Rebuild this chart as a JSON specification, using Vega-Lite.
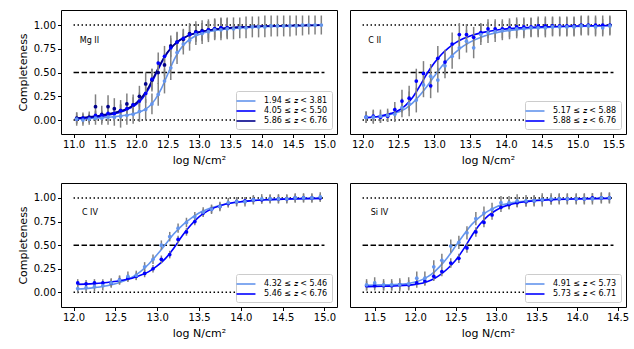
{
"$schema":"https://vega.github.io/schema/vega-lite/v6.json",
"padding":{"left":16,"top":9,"right":0,"bottom":0},
"config":{
 "font":"DejaVu Sans",
 "view":{"stroke":"black","strokeWidth":1},
 "axis":{"domain":false,"grid":false,"tickColor":"black","tickSize":3.5,"tickWidth":1,"labelColor":"black","labelFontSize":10,"labelFont":"DejaVu Sans","titleFont":"DejaVu Sans","titleFontSize":11,"titleFontWeight":"normal","titleColor":"black","labelPadding":2,"titlePadding":5,"labelOverlap":false,"labelFlush":false,"tickCount":20},
 "legend":{"orient":"bottom-right","offset":5,"fillColor":"white","strokeColor":"#cccccc","cornerRadius":2,"padding":4,"labelFontSize":8,"labelFont":"DejaVu Sans","labelColor":"black","symbolType":"M-2,0H2","symbolSize":90,"symbolStrokeWidth":1.6,"rowPadding":0,"labelOffset":12}
},
"datasets":{
"hl":[
{"p":"mg","y":0,"x":11.0,"x2":15.0},{"p":"mg","y":0.5,"x":11.0,"x2":15.0},{"p":"mg","y":1,"x":11.0,"x2":15.0},
{"p":"cii","y":0,"x":12.0,"x2":15.5},{"p":"cii","y":0.5,"x":12.0,"x2":15.5},{"p":"cii","y":1,"x":12.0,"x2":15.5},
{"p":"civ","y":0,"x":12.0,"x2":15.0},{"p":"civ","y":0.5,"x":12.0,"x2":15.0},{"p":"civ","y":1,"x":12.0,"x2":15.0},
{"p":"siiv","y":0,"x":11.35,"x2":14.45},{"p":"siiv","y":0.5,"x":11.35,"x2":14.45},{"p":"siiv","y":1,"x":11.35,"x2":14.45}
],
"fit":[
{"p":"mg","s":"a","x":11.05,"y":0.01},{"p":"mg","s":"a","x":11.2,"y":0.015},{"p":"mg","s":"a","x":11.4,"y":0.022},{"p":"mg","s":"a","x":11.6,"y":0.032},{"p":"mg","s":"a","x":11.8,"y":0.047},{"p":"mg","s":"a","x":11.9,"y":0.058},{"p":"mg","s":"a","x":12.0,"y":0.073},{"p":"mg","s":"a","x":12.1,"y":0.097},{"p":"mg","s":"a","x":12.2,"y":0.14},{"p":"mg","s":"a","x":12.3,"y":0.215},{"p":"mg","s":"a","x":12.4,"y":0.33},{"p":"mg","s":"a","x":12.5,"y":0.48},{"p":"mg","s":"a","x":12.6,"y":0.63},{"p":"mg","s":"a","x":12.7,"y":0.745},{"p":"mg","s":"a","x":12.8,"y":0.82},{"p":"mg","s":"a","x":12.9,"y":0.868},{"p":"mg","s":"a","x":13.0,"y":0.9},{"p":"mg","s":"a","x":13.2,"y":0.936},{"p":"mg","s":"a","x":13.4,"y":0.955},{"p":"mg","s":"a","x":13.6,"y":0.967},{"p":"mg","s":"a","x":13.8,"y":0.975},{"p":"mg","s":"a","x":14.0,"y":0.981},{"p":"mg","s":"a","x":14.3,"y":0.988},{"p":"mg","s":"a","x":14.6,"y":0.993},{"p":"mg","s":"a","x":14.95,"y":0.997},
{"p":"mg","s":"b","x":11.05,"y":0.015},{"p":"mg","s":"b","x":11.2,"y":0.022},{"p":"mg","s":"b","x":11.4,"y":0.035},{"p":"mg","s":"b","x":11.6,"y":0.058},{"p":"mg","s":"b","x":11.8,"y":0.095},{"p":"mg","s":"b","x":11.9,"y":0.125},{"p":"mg","s":"b","x":12.0,"y":0.165},{"p":"mg","s":"b","x":12.1,"y":0.23},{"p":"mg","s":"b","x":12.2,"y":0.33},{"p":"mg","s":"b","x":12.3,"y":0.465},{"p":"mg","s":"b","x":12.4,"y":0.6},{"p":"mg","s":"b","x":12.5,"y":0.71},{"p":"mg","s":"b","x":12.6,"y":0.79},{"p":"mg","s":"b","x":12.7,"y":0.845},{"p":"mg","s":"b","x":12.8,"y":0.88},{"p":"mg","s":"b","x":12.9,"y":0.905},{"p":"mg","s":"b","x":13.0,"y":0.925},{"p":"mg","s":"b","x":13.2,"y":0.95},{"p":"mg","s":"b","x":13.4,"y":0.965},{"p":"mg","s":"b","x":13.6,"y":0.975},{"p":"mg","s":"b","x":13.8,"y":0.982},{"p":"mg","s":"b","x":14.0,"y":0.987},{"p":"mg","s":"b","x":14.3,"y":0.992},{"p":"mg","s":"b","x":14.6,"y":0.995},{"p":"mg","s":"b","x":14.95,"y":0.998},
{"p":"mg","s":"c","x":11.05,"y":0.02},{"p":"mg","s":"c","x":11.2,"y":0.03},{"p":"mg","s":"c","x":11.4,"y":0.045},{"p":"mg","s":"c","x":11.6,"y":0.07},{"p":"mg","s":"c","x":11.8,"y":0.105},{"p":"mg","s":"c","x":11.9,"y":0.135},{"p":"mg","s":"c","x":12.0,"y":0.18},{"p":"mg","s":"c","x":12.1,"y":0.25},{"p":"mg","s":"c","x":12.2,"y":0.35},{"p":"mg","s":"c","x":12.3,"y":0.48},{"p":"mg","s":"c","x":12.4,"y":0.61},{"p":"mg","s":"c","x":12.5,"y":0.715},{"p":"mg","s":"c","x":12.6,"y":0.79},{"p":"mg","s":"c","x":12.7,"y":0.842},{"p":"mg","s":"c","x":12.8,"y":0.878},{"p":"mg","s":"c","x":12.9,"y":0.905},{"p":"mg","s":"c","x":13.0,"y":0.925},{"p":"mg","s":"c","x":13.2,"y":0.95},{"p":"mg","s":"c","x":13.4,"y":0.965},{"p":"mg","s":"c","x":13.6,"y":0.975},{"p":"mg","s":"c","x":13.8,"y":0.982},{"p":"mg","s":"c","x":14.0,"y":0.987},{"p":"mg","s":"c","x":14.3,"y":0.992},{"p":"mg","s":"c","x":14.6,"y":0.995},{"p":"mg","s":"c","x":14.95,"y":0.998},
{"p":"cii","s":"a","x":12.05,"y":0.025},{"p":"cii","s":"a","x":12.2,"y":0.035},{"p":"cii","s":"a","x":12.4,"y":0.06},{"p":"cii","s":"a","x":12.5,"y":0.085},{"p":"cii","s":"a","x":12.6,"y":0.12},{"p":"cii","s":"a","x":12.7,"y":0.18},{"p":"cii","s":"a","x":12.8,"y":0.26},{"p":"cii","s":"a","x":12.9,"y":0.355},{"p":"cii","s":"a","x":13.0,"y":0.46},{"p":"cii","s":"a","x":13.1,"y":0.56},{"p":"cii","s":"a","x":13.2,"y":0.645},{"p":"cii","s":"a","x":13.3,"y":0.715},{"p":"cii","s":"a","x":13.4,"y":0.775},{"p":"cii","s":"a","x":13.5,"y":0.82},{"p":"cii","s":"a","x":13.7,"y":0.885},{"p":"cii","s":"a","x":13.9,"y":0.925},{"p":"cii","s":"a","x":14.2,"y":0.955},{"p":"cii","s":"a","x":14.5,"y":0.972},{"p":"cii","s":"a","x":15.0,"y":0.986},{"p":"cii","s":"a","x":15.45,"y":0.993},
{"p":"cii","s":"b","x":12.05,"y":0.025},{"p":"cii","s":"b","x":12.2,"y":0.035},{"p":"cii","s":"b","x":12.4,"y":0.07},{"p":"cii","s":"b","x":12.5,"y":0.1},{"p":"cii","s":"b","x":12.6,"y":0.155},{"p":"cii","s":"b","x":12.7,"y":0.24},{"p":"cii","s":"b","x":12.8,"y":0.36},{"p":"cii","s":"b","x":12.9,"y":0.49},{"p":"cii","s":"b","x":13.0,"y":0.6},{"p":"cii","s":"b","x":13.1,"y":0.69},{"p":"cii","s":"b","x":13.2,"y":0.76},{"p":"cii","s":"b","x":13.3,"y":0.815},{"p":"cii","s":"b","x":13.4,"y":0.855},{"p":"cii","s":"b","x":13.5,"y":0.885},{"p":"cii","s":"b","x":13.7,"y":0.925},{"p":"cii","s":"b","x":13.9,"y":0.95},{"p":"cii","s":"b","x":14.2,"y":0.97},{"p":"cii","s":"b","x":14.5,"y":0.98},{"p":"cii","s":"b","x":15.0,"y":0.99},{"p":"cii","s":"b","x":15.45,"y":0.995},
{"p":"civ","s":"a","x":12.05,"y":0.035},{"p":"civ","s":"a","x":12.2,"y":0.045},{"p":"civ","s":"a","x":12.4,"y":0.07},{"p":"civ","s":"a","x":12.6,"y":0.12},{"p":"civ","s":"a","x":12.7,"y":0.16},{"p":"civ","s":"a","x":12.8,"y":0.22},{"p":"civ","s":"a","x":12.9,"y":0.3},{"p":"civ","s":"a","x":13.0,"y":0.4},{"p":"civ","s":"a","x":13.1,"y":0.51},{"p":"civ","s":"a","x":13.2,"y":0.62},{"p":"civ","s":"a","x":13.3,"y":0.71},{"p":"civ","s":"a","x":13.4,"y":0.78},{"p":"civ","s":"a","x":13.5,"y":0.84},{"p":"civ","s":"a","x":13.6,"y":0.88},{"p":"civ","s":"a","x":13.8,"y":0.93},{"p":"civ","s":"a","x":14.0,"y":0.96},{"p":"civ","s":"a","x":14.3,"y":0.98},{"p":"civ","s":"a","x":14.6,"y":0.99},{"p":"civ","s":"a","x":14.95,"y":0.995},
{"p":"civ","s":"b","x":12.05,"y":0.085},{"p":"civ","s":"b","x":12.2,"y":0.09},{"p":"civ","s":"b","x":12.4,"y":0.105},{"p":"civ","s":"b","x":12.6,"y":0.13},{"p":"civ","s":"b","x":12.7,"y":0.15},{"p":"civ","s":"b","x":12.8,"y":0.18},{"p":"civ","s":"b","x":12.9,"y":0.22},{"p":"civ","s":"b","x":13.0,"y":0.28},{"p":"civ","s":"b","x":13.1,"y":0.36},{"p":"civ","s":"b","x":13.2,"y":0.47},{"p":"civ","s":"b","x":13.3,"y":0.6},{"p":"civ","s":"b","x":13.4,"y":0.71},{"p":"civ","s":"b","x":13.5,"y":0.8},{"p":"civ","s":"b","x":13.6,"y":0.86},{"p":"civ","s":"b","x":13.8,"y":0.93},{"p":"civ","s":"b","x":14.0,"y":0.96},{"p":"civ","s":"b","x":14.3,"y":0.98},{"p":"civ","s":"b","x":14.6,"y":0.99},{"p":"civ","s":"b","x":14.95,"y":0.995},
{"p":"siiv","s":"a","x":11.4,"y":0.075},{"p":"siiv","s":"a","x":11.6,"y":0.08},{"p":"siiv","s":"a","x":11.8,"y":0.085},{"p":"siiv","s":"a","x":12.0,"y":0.11},{"p":"siiv","s":"a","x":12.1,"y":0.14},{"p":"siiv","s":"a","x":12.2,"y":0.19},{"p":"siiv","s":"a","x":12.3,"y":0.27},{"p":"siiv","s":"a","x":12.4,"y":0.37},{"p":"siiv","s":"a","x":12.5,"y":0.49},{"p":"siiv","s":"a","x":12.6,"y":0.61},{"p":"siiv","s":"a","x":12.7,"y":0.72},{"p":"siiv","s":"a","x":12.8,"y":0.8},{"p":"siiv","s":"a","x":12.9,"y":0.86},{"p":"siiv","s":"a","x":13.0,"y":0.905},{"p":"siiv","s":"a","x":13.2,"y":0.95},{"p":"siiv","s":"a","x":13.4,"y":0.97},{"p":"siiv","s":"a","x":13.7,"y":0.985},{"p":"siiv","s":"a","x":14.0,"y":0.992},{"p":"siiv","s":"a","x":14.4,"y":0.996},
{"p":"siiv","s":"b","x":11.4,"y":0.06},{"p":"siiv","s":"b","x":11.6,"y":0.065},{"p":"siiv","s":"b","x":11.8,"y":0.07},{"p":"siiv","s":"b","x":12.0,"y":0.085},{"p":"siiv","s":"b","x":12.1,"y":0.1},{"p":"siiv","s":"b","x":12.2,"y":0.13},{"p":"siiv","s":"b","x":12.3,"y":0.18},{"p":"siiv","s":"b","x":12.4,"y":0.25},{"p":"siiv","s":"b","x":12.5,"y":0.34},{"p":"siiv","s":"b","x":12.6,"y":0.46},{"p":"siiv","s":"b","x":12.7,"y":0.6},{"p":"siiv","s":"b","x":12.8,"y":0.72},{"p":"siiv","s":"b","x":12.9,"y":0.81},{"p":"siiv","s":"b","x":13.0,"y":0.87},{"p":"siiv","s":"b","x":13.2,"y":0.935},{"p":"siiv","s":"b","x":13.4,"y":0.963},{"p":"siiv","s":"b","x":13.7,"y":0.982},{"p":"siiv","s":"b","x":14.0,"y":0.99},{"p":"siiv","s":"b","x":14.4,"y":0.995}
],
"pts":[
{"p":"mg","s":"c","x":11.05,"y":0.02,"lo":-0.04,"hi":0.08},{"p":"mg","s":"c","x":11.15,"y":0.02,"lo":-0.04,"hi":0.08},{"p":"mg","s":"c","x":11.25,"y":0.03,"lo":-0.03,"hi":0.09},{"p":"mg","s":"c","x":11.35,"y":0.14,"lo":0.01,"hi":0.27},{"p":"mg","s":"c","x":11.45,"y":0.06,"lo":-0.03,"hi":0.15},{"p":"mg","s":"c","x":11.55,"y":0.14,"lo":0.02,"hi":0.26},{"p":"mg","s":"c","x":11.65,"y":0.12,"lo":0.01,"hi":0.23},{"p":"mg","s":"c","x":11.75,"y":0.1,"lo":-0.01,"hi":0.21},{"p":"mg","s":"c","x":11.85,"y":0.17,"lo":0.06,"hi":0.28},{"p":"mg","s":"c","x":11.95,"y":0.16,"lo":0.05,"hi":0.27},{"p":"mg","s":"c","x":12.05,"y":0.25,"lo":0.14,"hi":0.36},{"p":"mg","s":"c","x":12.15,"y":0.38,"lo":0.26,"hi":0.5},{"p":"mg","s":"c","x":12.25,"y":0.42,"lo":0.3,"hi":0.54},{"p":"mg","s":"c","x":12.35,"y":0.5,"lo":0.38,"hi":0.62},{"p":"mg","s":"c","x":12.45,"y":0.58,"lo":0.46,"hi":0.7},{"p":"mg","s":"c","x":12.55,"y":0.78,"lo":0.67,"hi":0.89},{"p":"mg","s":"c","x":12.65,"y":0.82,"lo":0.71,"hi":0.93},{"p":"mg","s":"c","x":12.75,"y":0.85,"lo":0.74,"hi":0.96},{"p":"mg","s":"c","x":12.85,"y":0.91,"lo":0.8,"hi":1.02},{"p":"mg","s":"c","x":12.95,"y":0.93,"lo":0.82,"hi":1.04},{"p":"mg","s":"c","x":13.05,"y":0.94,"lo":0.83,"hi":1.05},{"p":"mg","s":"c","x":13.15,"y":0.95,"lo":0.84,"hi":1.06},{"p":"mg","s":"c","x":13.25,"y":0.96,"lo":0.85,"hi":1.07},{"p":"mg","s":"c","x":13.35,"y":0.97,"lo":0.86,"hi":1.08},{"p":"mg","s":"c","x":13.45,"y":0.97,"lo":0.86,"hi":1.08},
{"p":"mg","s":"b","x":11.05,"y":0.01,"lo":-0.03,"hi":0.05},{"p":"mg","s":"b","x":11.15,"y":0.02,"lo":-0.02,"hi":0.06},{"p":"mg","s":"b","x":11.25,"y":0.02,"lo":-0.02,"hi":0.06},{"p":"mg","s":"b","x":11.35,"y":0.05,"lo":0.0,"hi":0.1},{"p":"mg","s":"b","x":11.45,"y":0.05,"lo":0.0,"hi":0.1},{"p":"mg","s":"b","x":11.55,"y":0.07,"lo":0.01,"hi":0.13},{"p":"mg","s":"b","x":11.65,"y":0.07,"lo":0.01,"hi":0.13},{"p":"mg","s":"b","x":11.75,"y":0.1,"lo":0.03,"hi":0.17},{"p":"mg","s":"b","x":11.85,"y":0.12,"lo":0.05,"hi":0.19},{"p":"mg","s":"b","x":11.95,"y":0.16,"lo":0.08,"hi":0.24},{"p":"mg","s":"b","x":12.05,"y":0.2,"lo":0.11,"hi":0.29},{"p":"mg","s":"b","x":12.15,"y":0.28,"lo":0.18,"hi":0.38},{"p":"mg","s":"b","x":12.25,"y":0.43,"lo":0.32,"hi":0.54},{"p":"mg","s":"b","x":12.35,"y":0.6,"lo":0.49,"hi":0.71},{"p":"mg","s":"b","x":12.45,"y":0.67,"lo":0.56,"hi":0.78},{"p":"mg","s":"b","x":12.55,"y":0.76,"lo":0.66,"hi":0.86},{"p":"mg","s":"b","x":12.65,"y":0.82,"lo":0.72,"hi":0.92},{"p":"mg","s":"b","x":12.75,"y":0.86,"lo":0.77,"hi":0.95},{"p":"mg","s":"b","x":12.85,"y":0.9,"lo":0.81,"hi":0.99},{"p":"mg","s":"b","x":12.95,"y":0.92,"lo":0.83,"hi":1.01},{"p":"mg","s":"b","x":13.05,"y":0.93,"lo":0.84,"hi":1.02},{"p":"mg","s":"b","x":13.15,"y":0.95,"lo":0.86,"hi":1.04},{"p":"mg","s":"b","x":13.25,"y":0.96,"lo":0.87,"hi":1.05},{"p":"mg","s":"b","x":13.35,"y":0.97,"lo":0.88,"hi":1.06},{"p":"mg","s":"b","x":13.45,"y":0.97,"lo":0.88,"hi":1.06},
{"p":"mg","s":"a","x":11.05,"y":0.01,"lo":-0.06,"hi":0.08},{"p":"mg","s":"a","x":11.15,"y":0.0,"lo":-0.06,"hi":0.06},{"p":"mg","s":"a","x":11.25,"y":0.01,"lo":-0.05,"hi":0.07},{"p":"mg","s":"a","x":11.35,"y":0.02,"lo":-0.05,"hi":0.09},{"p":"mg","s":"a","x":11.45,"y":0.02,"lo":-0.05,"hi":0.09},{"p":"mg","s":"a","x":11.55,"y":0.03,"lo":-0.05,"hi":0.11},{"p":"mg","s":"a","x":11.65,"y":0.03,"lo":-0.06,"hi":0.12},{"p":"mg","s":"a","x":11.75,"y":0.04,"lo":-0.08,"hi":0.16},{"p":"mg","s":"a","x":11.85,"y":0.05,"lo":-0.05,"hi":0.15},{"p":"mg","s":"a","x":11.95,"y":0.06,"lo":-0.04,"hi":0.16},{"p":"mg","s":"a","x":12.05,"y":0.09,"lo":-0.02,"hi":0.2},{"p":"mg","s":"a","x":12.15,"y":0.11,"lo":0.0,"hi":0.22},{"p":"mg","s":"a","x":12.25,"y":0.17,"lo":0.06,"hi":0.28},{"p":"mg","s":"a","x":12.35,"y":0.27,"lo":0.15,"hi":0.39},{"p":"mg","s":"a","x":12.45,"y":0.41,"lo":0.28,"hi":0.54},{"p":"mg","s":"a","x":12.55,"y":0.55,"lo":0.42,"hi":0.68},{"p":"mg","s":"a","x":12.65,"y":0.71,"lo":0.59,"hi":0.83},{"p":"mg","s":"a","x":12.75,"y":0.8,"lo":0.69,"hi":0.91},{"p":"mg","s":"a","x":12.85,"y":0.84,"lo":0.73,"hi":0.95},{"p":"mg","s":"a","x":12.95,"y":0.9,"lo":0.79,"hi":1.01},{"p":"mg","s":"a","x":13.05,"y":0.91,"lo":0.8,"hi":1.02},{"p":"mg","s":"a","x":13.15,"y":0.93,"lo":0.82,"hi":1.04},{"p":"mg","s":"a","x":13.25,"y":0.95,"lo":0.84,"hi":1.06},{"p":"mg","s":"a","x":13.35,"y":0.95,"lo":0.84,"hi":1.07},{"p":"mg","s":"a","x":13.45,"y":0.96,"lo":0.85,"hi":1.07},{"p":"mg","s":"a","x":13.55,"y":0.96,"lo":0.85,"hi":1.08},{"p":"mg","s":"a","x":13.65,"y":0.97,"lo":0.86,"hi":1.08},{"p":"mg","s":"a","x":13.75,"y":0.97,"lo":0.86,"hi":1.09},{"p":"mg","s":"a","x":13.85,"y":0.98,"lo":0.87,"hi":1.09},{"p":"mg","s":"a","x":13.95,"y":0.98,"lo":0.87,"hi":1.09},{"p":"mg","s":"a","x":14.05,"y":0.98,"lo":0.87,"hi":1.1},{"p":"mg","s":"a","x":14.15,"y":0.99,"lo":0.88,"hi":1.1},{"p":"mg","s":"a","x":14.25,"y":0.99,"lo":0.88,"hi":1.1},{"p":"mg","s":"a","x":14.35,"y":0.99,"lo":0.88,"hi":1.1},{"p":"mg","s":"a","x":14.45,"y":0.99,"lo":0.88,"hi":1.1},{"p":"mg","s":"a","x":14.55,"y":0.99,"lo":0.89,"hi":1.1},{"p":"mg","s":"a","x":14.65,"y":1.0,"lo":0.89,"hi":1.1},{"p":"mg","s":"a","x":14.75,"y":1.0,"lo":0.9,"hi":1.1},{"p":"mg","s":"a","x":14.85,"y":1.0,"lo":0.9,"hi":1.1},{"p":"mg","s":"a","x":14.95,"y":1.0,"lo":0.9,"hi":1.1},
{"p":"cii","s":"b","x":12.05,"y":0.03,"lo":-0.03,"hi":0.09},{"p":"cii","s":"b","x":12.15,"y":0.04,"lo":-0.03,"hi":0.11},{"p":"cii","s":"b","x":12.25,"y":0.03,"lo":-0.03,"hi":0.09},{"p":"cii","s":"b","x":12.35,"y":0.04,"lo":-0.02,"hi":0.1},{"p":"cii","s":"b","x":12.45,"y":0.11,"lo":0.03,"hi":0.19},{"p":"cii","s":"b","x":12.55,"y":0.2,"lo":0.08,"hi":0.32},{"p":"cii","s":"b","x":12.65,"y":0.23,"lo":0.1,"hi":0.36},{"p":"cii","s":"b","x":12.75,"y":0.41,"lo":0.28,"hi":0.54},{"p":"cii","s":"b","x":12.85,"y":0.49,"lo":0.36,"hi":0.62},{"p":"cii","s":"b","x":12.95,"y":0.36,"lo":0.23,"hi":0.49},{"p":"cii","s":"b","x":13.05,"y":0.65,"lo":0.52,"hi":0.78},{"p":"cii","s":"b","x":13.15,"y":0.61,"lo":0.48,"hi":0.74},{"p":"cii","s":"b","x":13.25,"y":0.8,"lo":0.68,"hi":0.92},{"p":"cii","s":"b","x":13.35,"y":0.9,"lo":0.78,"hi":1.02},{"p":"cii","s":"b","x":13.45,"y":0.9,"lo":0.79,"hi":1.01},{"p":"cii","s":"b","x":13.55,"y":0.87,"lo":0.76,"hi":0.98},{"p":"cii","s":"b","x":13.65,"y":0.92,"lo":0.82,"hi":1.02},{"p":"cii","s":"b","x":13.75,"y":0.96,"lo":0.86,"hi":1.06},{"p":"cii","s":"b","x":13.85,"y":0.96,"lo":0.86,"hi":1.06},{"p":"cii","s":"b","x":13.95,"y":0.96,"lo":0.86,"hi":1.06},{"p":"cii","s":"b","x":14.05,"y":0.97,"lo":0.87,"hi":1.07},{"p":"cii","s":"b","x":14.15,"y":0.98,"lo":0.88,"hi":1.08},{"p":"cii","s":"b","x":14.25,"y":0.98,"lo":0.88,"hi":1.08},{"p":"cii","s":"b","x":14.35,"y":0.98,"lo":0.88,"hi":1.08},{"p":"cii","s":"b","x":14.45,"y":0.99,"lo":0.89,"hi":1.09},{"p":"cii","s":"b","x":14.55,"y":0.99,"lo":0.89,"hi":1.09},{"p":"cii","s":"b","x":14.65,"y":0.99,"lo":0.89,"hi":1.09},{"p":"cii","s":"b","x":14.75,"y":0.99,"lo":0.89,"hi":1.09},{"p":"cii","s":"b","x":14.85,"y":0.99,"lo":0.89,"hi":1.09},{"p":"cii","s":"b","x":14.95,"y":0.99,"lo":0.89,"hi":1.09},{"p":"cii","s":"b","x":15.05,"y":1.0,"lo":0.9,"hi":1.1},{"p":"cii","s":"b","x":15.15,"y":1.0,"lo":0.9,"hi":1.1},{"p":"cii","s":"b","x":15.25,"y":1.0,"lo":0.9,"hi":1.1},{"p":"cii","s":"b","x":15.35,"y":1.0,"lo":0.9,"hi":1.1},{"p":"cii","s":"b","x":15.45,"y":1.0,"lo":0.9,"hi":1.1},
{"p":"cii","s":"a","x":12.05,"y":0.03,"lo":-0.03,"hi":0.09},{"p":"cii","s":"a","x":12.15,"y":0.03,"lo":-0.04,"hi":0.1},{"p":"cii","s":"a","x":12.25,"y":0.04,"lo":-0.03,"hi":0.11},{"p":"cii","s":"a","x":12.35,"y":0.05,"lo":-0.02,"hi":0.12},{"p":"cii","s":"a","x":12.45,"y":0.06,"lo":-0.02,"hi":0.14},{"p":"cii","s":"a","x":12.55,"y":0.13,"lo":0.03,"hi":0.23},{"p":"cii","s":"a","x":12.65,"y":0.17,"lo":0.04,"hi":0.3},{"p":"cii","s":"a","x":12.75,"y":0.21,"lo":0.08,"hi":0.34},{"p":"cii","s":"a","x":12.85,"y":0.37,"lo":0.24,"hi":0.5},{"p":"cii","s":"a","x":12.95,"y":0.46,"lo":0.33,"hi":0.59},{"p":"cii","s":"a","x":13.05,"y":0.42,"lo":0.29,"hi":0.55},{"p":"cii","s":"a","x":13.15,"y":0.57,"lo":0.44,"hi":0.7},{"p":"cii","s":"a","x":13.25,"y":0.67,"lo":0.54,"hi":0.8},{"p":"cii","s":"a","x":13.35,"y":0.76,"lo":0.64,"hi":0.88},{"p":"cii","s":"a","x":13.45,"y":0.83,"lo":0.71,"hi":0.95},{"p":"cii","s":"a","x":13.55,"y":0.76,"lo":0.65,"hi":0.87},{"p":"cii","s":"a","x":13.65,"y":0.9,"lo":0.79,"hi":1.01},{"p":"cii","s":"a","x":13.75,"y":0.92,"lo":0.81,"hi":1.03},{"p":"cii","s":"a","x":13.85,"y":0.93,"lo":0.82,"hi":1.04},{"p":"cii","s":"a","x":13.95,"y":0.94,"lo":0.84,"hi":1.04},{"p":"cii","s":"a","x":14.05,"y":0.95,"lo":0.85,"hi":1.05},{"p":"cii","s":"a","x":14.15,"y":0.96,"lo":0.86,"hi":1.06},{"p":"cii","s":"a","x":14.25,"y":0.96,"lo":0.86,"hi":1.06},{"p":"cii","s":"a","x":14.35,"y":0.97,"lo":0.87,"hi":1.07},{"p":"cii","s":"a","x":14.45,"y":0.97,"lo":0.87,"hi":1.07},{"p":"cii","s":"a","x":14.55,"y":0.97,"lo":0.87,"hi":1.07},{"p":"cii","s":"a","x":14.65,"y":0.98,"lo":0.88,"hi":1.08},{"p":"cii","s":"a","x":14.75,"y":0.98,"lo":0.88,"hi":1.08},{"p":"cii","s":"a","x":14.85,"y":0.98,"lo":0.88,"hi":1.08},{"p":"cii","s":"a","x":14.95,"y":0.98,"lo":0.88,"hi":1.08},{"p":"cii","s":"a","x":15.05,"y":0.99,"lo":0.89,"hi":1.09},{"p":"cii","s":"a","x":15.15,"y":0.99,"lo":0.89,"hi":1.09},{"p":"cii","s":"a","x":15.25,"y":0.98,"lo":0.88,"hi":1.08},{"p":"cii","s":"a","x":15.35,"y":0.97,"lo":0.88,"hi":1.06},{"p":"cii","s":"a","x":15.45,"y":0.99,"lo":0.89,"hi":1.09},
{"p":"civ","s":"b","x":12.05,"y":0.1,"lo":0.06,"hi":0.14},{"p":"civ","s":"b","x":12.15,"y":0.09,"lo":0.05,"hi":0.13},{"p":"civ","s":"b","x":12.25,"y":0.1,"lo":0.06,"hi":0.14},{"p":"civ","s":"b","x":12.35,"y":0.1,"lo":0.06,"hi":0.14},{"p":"civ","s":"b","x":12.45,"y":0.1,"lo":0.06,"hi":0.14},{"p":"civ","s":"b","x":12.55,"y":0.13,"lo":0.09,"hi":0.17},{"p":"civ","s":"b","x":12.65,"y":0.15,"lo":0.11,"hi":0.19},{"p":"civ","s":"b","x":12.75,"y":0.17,"lo":0.13,"hi":0.21},{"p":"civ","s":"b","x":12.85,"y":0.2,"lo":0.16,"hi":0.24},{"p":"civ","s":"b","x":12.95,"y":0.25,"lo":0.21,"hi":0.29},{"p":"civ","s":"b","x":13.05,"y":0.35,"lo":0.31,"hi":0.39},{"p":"civ","s":"b","x":13.15,"y":0.4,"lo":0.36,"hi":0.44},{"p":"civ","s":"b","x":13.25,"y":0.56,"lo":0.52,"hi":0.6},{"p":"civ","s":"b","x":13.35,"y":0.64,"lo":0.6,"hi":0.68},{"p":"civ","s":"b","x":13.45,"y":0.75,"lo":0.71,"hi":0.79},{"p":"civ","s":"b","x":13.55,"y":0.84,"lo":0.8,"hi":0.88},{"p":"civ","s":"b","x":13.65,"y":0.88,"lo":0.84,"hi":0.92},{"p":"civ","s":"b","x":13.75,"y":0.91,"lo":0.87,"hi":0.95},{"p":"civ","s":"b","x":13.85,"y":0.94,"lo":0.9,"hi":0.98},{"p":"civ","s":"b","x":13.95,"y":0.96,"lo":0.92,"hi":1.0},{"p":"civ","s":"b","x":14.05,"y":0.97,"lo":0.93,"hi":1.01},{"p":"civ","s":"b","x":14.15,"y":0.98,"lo":0.94,"hi":1.02},{"p":"civ","s":"b","x":14.25,"y":0.98,"lo":0.94,"hi":1.02},{"p":"civ","s":"b","x":14.35,"y":0.99,"lo":0.95,"hi":1.03},{"p":"civ","s":"b","x":14.45,"y":0.99,"lo":0.95,"hi":1.03},{"p":"civ","s":"b","x":14.55,"y":0.99,"lo":0.95,"hi":1.03},{"p":"civ","s":"b","x":14.65,"y":1.0,"lo":0.96,"hi":1.04},{"p":"civ","s":"b","x":14.75,"y":1.0,"lo":0.96,"hi":1.04},{"p":"civ","s":"b","x":14.85,"y":1.0,"lo":0.96,"hi":1.04},{"p":"civ","s":"b","x":14.95,"y":1.0,"lo":0.96,"hi":1.04},
{"p":"civ","s":"a","x":12.05,"y":0.04,"lo":-0.01,"hi":0.09},{"p":"civ","s":"a","x":12.15,"y":0.05,"lo":0.0,"hi":0.1},{"p":"civ","s":"a","x":12.25,"y":0.06,"lo":0.01,"hi":0.11},{"p":"civ","s":"a","x":12.35,"y":0.07,"lo":0.02,"hi":0.12},{"p":"civ","s":"a","x":12.45,"y":0.1,"lo":0.05,"hi":0.15},{"p":"civ","s":"a","x":12.55,"y":0.13,"lo":0.08,"hi":0.18},{"p":"civ","s":"a","x":12.65,"y":0.17,"lo":0.12,"hi":0.22},{"p":"civ","s":"a","x":12.75,"y":0.18,"lo":0.13,"hi":0.23},{"p":"civ","s":"a","x":12.85,"y":0.27,"lo":0.22,"hi":0.32},{"p":"civ","s":"a","x":12.95,"y":0.35,"lo":0.3,"hi":0.4},{"p":"civ","s":"a","x":13.05,"y":0.5,"lo":0.45,"hi":0.55},{"p":"civ","s":"a","x":13.15,"y":0.59,"lo":0.54,"hi":0.64},{"p":"civ","s":"a","x":13.25,"y":0.68,"lo":0.63,"hi":0.73},{"p":"civ","s":"a","x":13.35,"y":0.74,"lo":0.69,"hi":0.79},{"p":"civ","s":"a","x":13.45,"y":0.8,"lo":0.75,"hi":0.85},{"p":"civ","s":"a","x":13.55,"y":0.85,"lo":0.8,"hi":0.9},{"p":"civ","s":"a","x":13.65,"y":0.88,"lo":0.83,"hi":0.93},{"p":"civ","s":"a","x":13.75,"y":0.91,"lo":0.86,"hi":0.96},{"p":"civ","s":"a","x":13.85,"y":0.95,"lo":0.9,"hi":1.0},{"p":"civ","s":"a","x":13.95,"y":0.96,"lo":0.91,"hi":1.01},{"p":"civ","s":"a","x":14.05,"y":0.96,"lo":0.91,"hi":1.01},{"p":"civ","s":"a","x":14.15,"y":0.98,"lo":0.93,"hi":1.03},{"p":"civ","s":"a","x":14.25,"y":0.99,"lo":0.94,"hi":1.04},{"p":"civ","s":"a","x":14.35,"y":0.99,"lo":0.94,"hi":1.04},{"p":"civ","s":"a","x":14.45,"y":0.99,"lo":0.94,"hi":1.04},{"p":"civ","s":"a","x":14.55,"y":0.99,"lo":0.94,"hi":1.04},{"p":"civ","s":"a","x":14.65,"y":1.0,"lo":0.95,"hi":1.05},{"p":"civ","s":"a","x":14.75,"y":1.0,"lo":0.95,"hi":1.05},{"p":"civ","s":"a","x":14.85,"y":1.0,"lo":0.95,"hi":1.05},{"p":"civ","s":"a","x":14.95,"y":1.01,"lo":0.96,"hi":1.06},
{"p":"siiv","s":"b","x":11.4,"y":0.07,"lo":0.02,"hi":0.12},{"p":"siiv","s":"b","x":11.5,"y":0.07,"lo":0.02,"hi":0.12},{"p":"siiv","s":"b","x":11.61,"y":0.07,"lo":0.02,"hi":0.12},{"p":"siiv","s":"b","x":11.71,"y":0.07,"lo":0.02,"hi":0.12},{"p":"siiv","s":"b","x":11.81,"y":0.08,"lo":0.03,"hi":0.13},{"p":"siiv","s":"b","x":11.92,"y":0.08,"lo":0.03,"hi":0.13},{"p":"siiv","s":"b","x":12.02,"y":0.1,"lo":0.05,"hi":0.15},{"p":"siiv","s":"b","x":12.12,"y":0.12,"lo":0.07,"hi":0.17},{"p":"siiv","s":"b","x":12.23,"y":0.17,"lo":0.12,"hi":0.22},{"p":"siiv","s":"b","x":12.33,"y":0.22,"lo":0.17,"hi":0.27},{"p":"siiv","s":"b","x":12.44,"y":0.31,"lo":0.26,"hi":0.36},{"p":"siiv","s":"b","x":12.54,"y":0.36,"lo":0.31,"hi":0.41},{"p":"siiv","s":"b","x":12.64,"y":0.47,"lo":0.42,"hi":0.52},{"p":"siiv","s":"b","x":12.75,"y":0.64,"lo":0.59,"hi":0.69},{"p":"siiv","s":"b","x":12.85,"y":0.74,"lo":0.69,"hi":0.79},{"p":"siiv","s":"b","x":12.95,"y":0.82,"lo":0.77,"hi":0.87},{"p":"siiv","s":"b","x":13.06,"y":0.9,"lo":0.85,"hi":0.95},{"p":"siiv","s":"b","x":13.16,"y":0.93,"lo":0.88,"hi":0.98},{"p":"siiv","s":"b","x":13.26,"y":0.95,"lo":0.9,"hi":1.0},{"p":"siiv","s":"b","x":13.37,"y":0.96,"lo":0.91,"hi":1.01},{"p":"siiv","s":"b","x":13.47,"y":0.97,"lo":0.92,"hi":1.02},{"p":"siiv","s":"b","x":13.57,"y":0.98,"lo":0.93,"hi":1.03},{"p":"siiv","s":"b","x":13.68,"y":0.98,"lo":0.93,"hi":1.03},{"p":"siiv","s":"b","x":13.78,"y":0.99,"lo":0.94,"hi":1.04},{"p":"siiv","s":"b","x":13.88,"y":0.99,"lo":0.94,"hi":1.04},{"p":"siiv","s":"b","x":13.99,"y":0.99,"lo":0.94,"hi":1.04},{"p":"siiv","s":"b","x":14.09,"y":0.99,"lo":0.94,"hi":1.04},{"p":"siiv","s":"b","x":14.19,"y":1.0,"lo":0.95,"hi":1.05},{"p":"siiv","s":"b","x":14.3,"y":1.0,"lo":0.95,"hi":1.05},{"p":"siiv","s":"b","x":14.4,"y":1.0,"lo":0.95,"hi":1.05},
{"p":"siiv","s":"a","x":11.4,"y":0.08,"lo":0.02,"hi":0.14},{"p":"siiv","s":"a","x":11.5,"y":0.1,"lo":0.04,"hi":0.16},{"p":"siiv","s":"a","x":11.61,"y":0.08,"lo":0.02,"hi":0.14},{"p":"siiv","s":"a","x":11.71,"y":0.08,"lo":0.02,"hi":0.14},{"p":"siiv","s":"a","x":11.81,"y":0.08,"lo":0.01,"hi":0.15},{"p":"siiv","s":"a","x":11.92,"y":0.09,"lo":0.02,"hi":0.16},{"p":"siiv","s":"a","x":12.02,"y":0.15,"lo":0.08,"hi":0.22},{"p":"siiv","s":"a","x":12.12,"y":0.15,"lo":0.08,"hi":0.22},{"p":"siiv","s":"a","x":12.23,"y":0.27,"lo":0.2,"hi":0.34},{"p":"siiv","s":"a","x":12.33,"y":0.34,"lo":0.27,"hi":0.41},{"p":"siiv","s":"a","x":12.44,"y":0.49,"lo":0.42,"hi":0.56},{"p":"siiv","s":"a","x":12.54,"y":0.53,"lo":0.46,"hi":0.6},{"p":"siiv","s":"a","x":12.64,"y":0.63,"lo":0.56,"hi":0.7},{"p":"siiv","s":"a","x":12.75,"y":0.78,"lo":0.71,"hi":0.85},{"p":"siiv","s":"a","x":12.85,"y":0.84,"lo":0.77,"hi":0.91},{"p":"siiv","s":"a","x":12.95,"y":0.88,"lo":0.81,"hi":0.95},{"p":"siiv","s":"a","x":13.06,"y":0.95,"lo":0.88,"hi":1.02},{"p":"siiv","s":"a","x":13.16,"y":0.95,"lo":0.88,"hi":1.02},{"p":"siiv","s":"a","x":13.26,"y":0.97,"lo":0.9,"hi":1.04},{"p":"siiv","s":"a","x":13.37,"y":0.97,"lo":0.91,"hi":1.03},{"p":"siiv","s":"a","x":13.47,"y":0.97,"lo":0.91,"hi":1.03},{"p":"siiv","s":"a","x":13.57,"y":0.98,"lo":0.91,"hi":1.05},{"p":"siiv","s":"a","x":13.68,"y":0.99,"lo":0.93,"hi":1.05},{"p":"siiv","s":"a","x":13.78,"y":0.99,"lo":0.93,"hi":1.05},{"p":"siiv","s":"a","x":13.88,"y":0.99,"lo":0.93,"hi":1.05},{"p":"siiv","s":"a","x":13.99,"y":0.99,"lo":0.93,"hi":1.05},{"p":"siiv","s":"a","x":14.09,"y":0.99,"lo":0.93,"hi":1.05},{"p":"siiv","s":"a","x":14.19,"y":0.99,"lo":0.93,"hi":1.05},{"p":"siiv","s":"a","x":14.3,"y":1.0,"lo":0.94,"hi":1.06},{"p":"siiv","s":"a","x":14.4,"y":1.0,"lo":0.94,"hi":1.06}
]
},
"columns":2,
"spacing":{"row":49,"column":13},
"bounds":"flush",
"resolve":{"scale":{"stroke":"independent","fill":"independent"},"legend":{"stroke":"independent"}},
"concat":[
{"width":276,"height":124,"layer":[
 {"data":{"name":"hl"},"transform":[{"filter":"datum.p=='mg' && datum.y!=0.5"}],"mark":{"type":"rule","color":"black","strokeWidth":1.5,"strokeDash":[1.5,2.5]},
  "encoding":{"x":{"field":"x","type":"quantitative","scale":{"domain":[10.8,15.2],"nice":false,"zero":false},"axis":{"values":[11,11.5,12,12.5,13,13.5,14,14.5,15],"tickCount":20,"format":".1f","title":"log N/cm²"}},"x2":{"field":"x2"},
   "y":{"field":"y","type":"quantitative","scale":{"domain":[-0.147,1.158],"nice":false,"zero":false},"axis":{"values":[0,0.25,0.5,0.75,1],"tickCount":20,"format":".2f","title":"Completeness"}}}},
 {"data":{"name":"hl"},"transform":[{"filter":"datum.p=='mg' && datum.y==0.5"}],"mark":{"type":"rule","color":"black","strokeWidth":1.5,"strokeDash":[5.5,2.5]},
  "encoding":{"x":{"field":"x","type":"quantitative"},"x2":{"field":"x2"},"y":{"field":"y","type":"quantitative"}}},
 {"data":{"name":"fit"},"transform":[{"filter":"datum.p=='mg'"}],"mark":{"type":"line","interpolate":"monotone","strokeWidth":1.6},
  "encoding":{"x":{"field":"x","type":"quantitative"},"y":{"field":"y","type":"quantitative"},"stroke":{"field":"s","type":"nominal","scale":{"domain":["a","b","c"],"range":["#6495ED","#0000FF","#00008B"]},"legend":{"title":null,"labelExpr":"datum.value=='a'?'1.94 ≤ 𝑧 < 3.81':datum.value=='b'?'4.05 ≤ 𝑧 < 5.50':'5.86 ≤ 𝑧 < 6.76'"}}}},
 {"data":{"name":"pts"},"transform":[{"filter":"datum.p=='mg'"}],"mark":{"type":"rule","color":"#808080","strokeWidth":1.5},
  "encoding":{"x":{"field":"x","type":"quantitative"},"y":{"field":"lo","type":"quantitative"},"y2":{"field":"hi"}}},
 {"data":{"name":"pts"},"transform":[{"filter":"datum.p=='mg'"}],"mark":{"type":"circle","size":14,"opacity":1},
  "encoding":{"x":{"field":"x","type":"quantitative"},"y":{"field":"y","type":"quantitative"},"fill":{"field":"s","type":"nominal","scale":{"domain":["a","b","c"],"range":["#6495ED","#0000FF","#00008B"]},"legend":null}}},
 {"data":{"values":[{}]},"mark":{"type":"text","text":"Mg II","align":"left","baseline":"middle","fontSize":8,"color":"black"},"encoding":{"x":{"datum":11.1},"y":{"datum":0.83}}}
]},
{"width":276,"height":124,"layer":[
 {"data":{"name":"hl"},"transform":[{"filter":"datum.p=='cii' && datum.y!=0.5"}],"mark":{"type":"rule","color":"black","strokeWidth":1.5,"strokeDash":[1.5,2.5]},
  "encoding":{"x":{"field":"x","type":"quantitative","scale":{"domain":[11.825,15.675],"nice":false,"zero":false},"axis":{"values":[12,12.5,13,13.5,14,14.5,15,15.5],"tickCount":20,"format":".1f","title":"log N/cm²"}},"x2":{"field":"x2"},
   "y":{"field":"y","type":"quantitative","scale":{"domain":[-0.147,1.158],"nice":false,"zero":false},"axis":null}}},
 {"data":{"name":"hl"},"transform":[{"filter":"datum.p=='cii' && datum.y==0.5"}],"mark":{"type":"rule","color":"black","strokeWidth":1.5,"strokeDash":[5.5,2.5]},
  "encoding":{"x":{"field":"x","type":"quantitative"},"x2":{"field":"x2"},"y":{"field":"y","type":"quantitative","axis":null}}},
 {"data":{"name":"fit"},"transform":[{"filter":"datum.p=='cii'"}],"mark":{"type":"line","interpolate":"monotone","strokeWidth":1.6},
  "encoding":{"x":{"field":"x","type":"quantitative"},"y":{"field":"y","type":"quantitative","axis":null},"stroke":{"field":"s","type":"nominal","scale":{"domain":["a","b"],"range":["#6495ED","#0000FF"]},"legend":{"title":null,"labelExpr":"datum.value=='a'?'5.17 ≤ 𝑧 < 5.88':'5.88 ≤ 𝑧 < 6.76'"}}}},
 {"data":{"name":"pts"},"transform":[{"filter":"datum.p=='cii'"}],"mark":{"type":"rule","color":"#808080","strokeWidth":1.5},
  "encoding":{"x":{"field":"x","type":"quantitative"},"y":{"field":"lo","type":"quantitative","axis":null},"y2":{"field":"hi"}}},
 {"data":{"name":"pts"},"transform":[{"filter":"datum.p=='cii'"}],"mark":{"type":"circle","size":14,"opacity":1},
  "encoding":{"x":{"field":"x","type":"quantitative"},"y":{"field":"y","type":"quantitative","axis":null},"fill":{"field":"s","type":"nominal","scale":{"domain":["a","b"],"range":["#6495ED","#0000FF"]},"legend":null}}},
 {"data":{"values":[{}]},"mark":{"type":"text","text":"C II","align":"left","baseline":"middle","fontSize":8,"color":"black"},"encoding":{"x":{"datum":12.08},"y":{"datum":0.83,"axis":null}}}
]},
{"width":276,"height":124,"layer":[
 {"data":{"name":"hl"},"transform":[{"filter":"datum.p=='civ' && datum.y!=0.5"}],"mark":{"type":"rule","color":"black","strokeWidth":1.5,"strokeDash":[1.5,2.5]},
  "encoding":{"x":{"field":"x","type":"quantitative","scale":{"domain":[11.85,15.15],"nice":false,"zero":false},"axis":{"values":[12,12.5,13,13.5,14,14.5,15],"tickCount":20,"format":".1f","title":"log N/cm²"}},"x2":{"field":"x2"},
   "y":{"field":"y","type":"quantitative","scale":{"domain":[-0.155,1.158],"nice":false,"zero":false},"axis":{"values":[0,0.25,0.5,0.75,1],"tickCount":20,"format":".2f","title":"Completeness"}}}},
 {"data":{"name":"hl"},"transform":[{"filter":"datum.p=='civ' && datum.y==0.5"}],"mark":{"type":"rule","color":"black","strokeWidth":1.5,"strokeDash":[5.5,2.5]},
  "encoding":{"x":{"field":"x","type":"quantitative"},"x2":{"field":"x2"},"y":{"field":"y","type":"quantitative"}}},
 {"data":{"name":"fit"},"transform":[{"filter":"datum.p=='civ'"}],"mark":{"type":"line","interpolate":"monotone","strokeWidth":1.6},
  "encoding":{"x":{"field":"x","type":"quantitative"},"y":{"field":"y","type":"quantitative"},"stroke":{"field":"s","type":"nominal","scale":{"domain":["a","b"],"range":["#6495ED","#0000FF"]},"legend":{"title":null,"labelExpr":"datum.value=='a'?'4.32 ≤ 𝑧 < 5.46':'5.46 ≤ 𝑧 < 6.76'"}}}},
 {"data":{"name":"pts"},"transform":[{"filter":"datum.p=='civ'"}],"mark":{"type":"rule","color":"#808080","strokeWidth":1.5},
  "encoding":{"x":{"field":"x","type":"quantitative"},"y":{"field":"lo","type":"quantitative"},"y2":{"field":"hi"}}},
 {"data":{"name":"pts"},"transform":[{"filter":"datum.p=='civ'"}],"mark":{"type":"circle","size":14,"opacity":1},
  "encoding":{"x":{"field":"x","type":"quantitative"},"y":{"field":"y","type":"quantitative"},"fill":{"field":"s","type":"nominal","scale":{"domain":["a","b"],"range":["#6495ED","#0000FF"]},"legend":null}}},
 {"data":{"values":[{}]},"mark":{"type":"text","text":"C IV","align":"left","baseline":"middle","fontSize":8,"color":"black"},"encoding":{"x":{"datum":12.1},"y":{"datum":0.84}}}
]},
{"width":276,"height":124,"layer":[
 {"data":{"name":"hl"},"transform":[{"filter":"datum.p=='siiv' && datum.y!=0.5"}],"mark":{"type":"rule","color":"black","strokeWidth":1.5,"strokeDash":[1.5,2.5]},
  "encoding":{"x":{"field":"x","type":"quantitative","scale":{"domain":[11.195,14.605],"nice":false,"zero":false},"axis":{"values":[11.5,12,12.5,13,13.5,14,14.5],"tickCount":20,"format":".1f","title":"log N/cm²"}},"x2":{"field":"x2"},
   "y":{"field":"y","type":"quantitative","scale":{"domain":[-0.155,1.158],"nice":false,"zero":false},"axis":null}}},
 {"data":{"name":"hl"},"transform":[{"filter":"datum.p=='siiv' && datum.y==0.5"}],"mark":{"type":"rule","color":"black","strokeWidth":1.5,"strokeDash":[5.5,2.5]},
  "encoding":{"x":{"field":"x","type":"quantitative"},"x2":{"field":"x2"},"y":{"field":"y","type":"quantitative","axis":null}}},
 {"data":{"name":"fit"},"transform":[{"filter":"datum.p=='siiv'"}],"mark":{"type":"line","interpolate":"monotone","strokeWidth":1.6},
  "encoding":{"x":{"field":"x","type":"quantitative"},"y":{"field":"y","type":"quantitative","axis":null},"stroke":{"field":"s","type":"nominal","scale":{"domain":["a","b"],"range":["#6495ED","#0000FF"]},"legend":{"title":null,"labelExpr":"datum.value=='a'?'4.91 ≤ 𝑧 < 5.73':'5.73 ≤ 𝑧 < 6.71'"}}}},
 {"data":{"name":"pts"},"transform":[{"filter":"datum.p=='siiv'"}],"mark":{"type":"rule","color":"#808080","strokeWidth":1.5},
  "encoding":{"x":{"field":"x","type":"quantitative"},"y":{"field":"lo","type":"quantitative","axis":null},"y2":{"field":"hi"}}},
 {"data":{"name":"pts"},"transform":[{"filter":"datum.p=='siiv'"}],"mark":{"type":"circle","size":14,"opacity":1},
  "encoding":{"x":{"field":"x","type":"quantitative"},"y":{"field":"y","type":"quantitative","axis":null},"fill":{"field":"s","type":"nominal","scale":{"domain":["a","b"],"range":["#6495ED","#0000FF"]},"legend":null}}},
 {"data":{"values":[{}]},"mark":{"type":"text","text":"Si IV","align":"left","baseline":"middle","fontSize":8,"color":"black"},"encoding":{"x":{"datum":11.45},"y":{"datum":0.84,"axis":null}}}
]}
]
}
